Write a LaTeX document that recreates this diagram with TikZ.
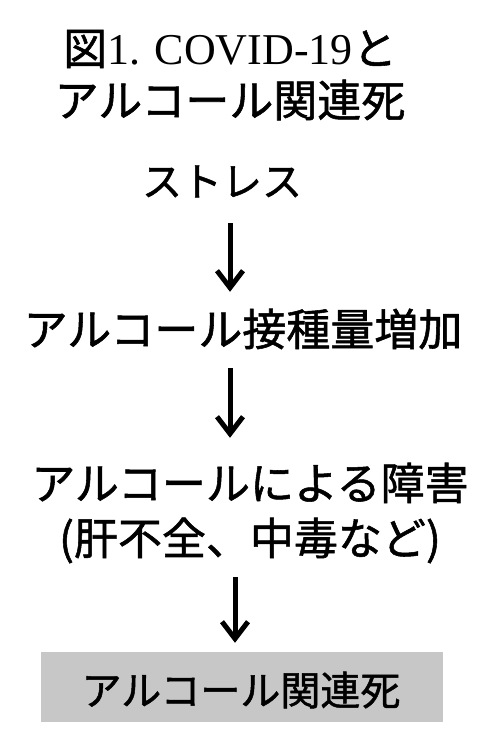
\documentclass[tikz,border=0pt]{standalone}
\usepackage{fontspec}
\setmainfont{Liberation Serif}
\newfontfamily\jp[FakeBold=1.2]{Noto Sans CJK JP}
\usetikzlibrary{arrows.meta}
\tikzset{
  lbl/.style={inner sep=0pt, font=\jp\fontsize{44pt}{54pt}\selectfont, text height=38.7pt, text depth=5.3pt, anchor=center},
  ttl/.style={inner sep=0pt, font=\fontsize{44pt}{54pt}\selectfont, text height=38.7pt, text depth=5.3pt, anchor=center},
  arr/.style={line width=5pt, -{Straight Barb[length=17pt,width=26pt]}},
  graybox/.style={fill=black!22, draw=none, minimum width=402pt, minimum height=70pt, inner sep=0pt}
}
\begin{document}
\begin{tikzpicture}[x=1pt,y=-1pt]
\useasboundingbox[fill=white] (0,0) rectangle (500,747);
\node[ttl] (t1) at (230,48) {{\jp 図}1. COVID-19{\jp と}};
\node[lbl] (t2) at (230,100) {アルコール関連死};
\node[lbl, font=\jp\fontsize{40pt}{48pt}\selectfont, text height=35.2pt, text depth=4.8pt] (s) at (222,181) {ストレス};
\node[lbl] (n2) at (243,329) {アルコール接種量増加};
\node[lbl] (n3) at (250,483) {アルコールによる障害};
\node[lbl] (n4) at (250,538) {(肝不全、中毒など)};
\node[graybox] (box) at (242,687) {};
\node[lbl, font=\jp\fontsize{40pt}{48pt}\selectfont, text height=35.2pt, text depth=4.8pt] (n5) at (241,690) {アルコール関連死};
\coordinate (a1) at (230,0);
\coordinate (a3) at (235,0);
\draw[arr] (s.south -| a1) ++(0,22) -- ([yshift=15pt]n2.north -| a1);
\draw[arr] ([yshift=-17pt]n2.south -| a1) -- ([yshift=23pt]n3.north -| a1);
\draw[arr] ([yshift=-17pt]n4.south -| a3) -- ([yshift=9pt]box.north -| a3);
\end{tikzpicture}
\end{document}
